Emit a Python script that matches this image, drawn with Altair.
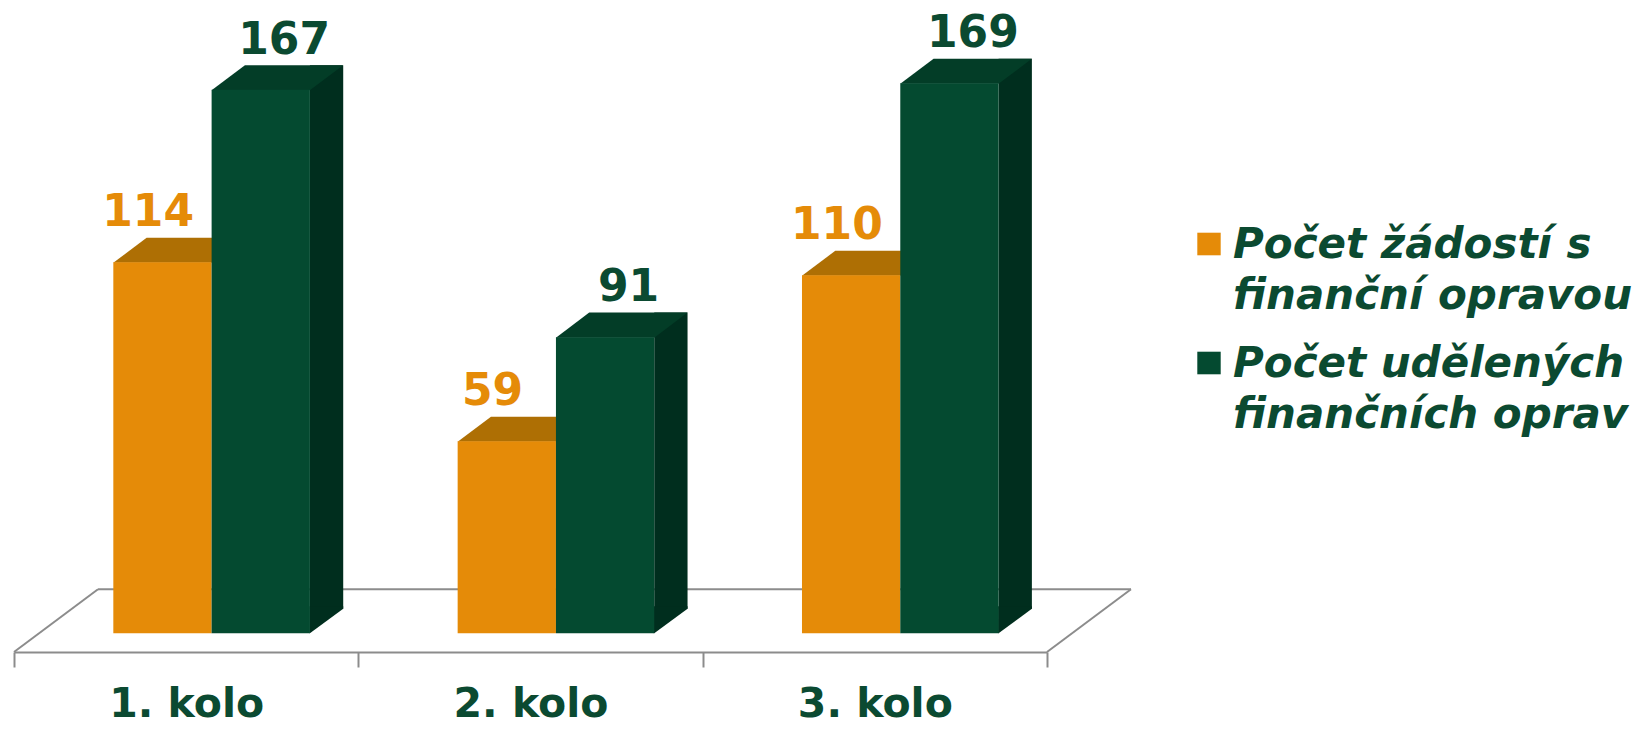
import altair as alt
import pandas as pd

# ---- data ----
categories = ["1. kolo", "2. kolo", "3. kolo"]
series_names = ["Počet žádostí s finanční opravou", "Počet udělených finančních oprav"]
legend_lines = [["Počet žádostí s", "finanční opravou"], ["Počet udělených", "finančních oprav"]]
requests = [114, 59, 110]
granted = [167, 91, 169]

ORANGE = "#E58B08"
ORANGE_TOP = "#AE6F04"
GREEN = "#044A30"
GREEN_TOP = "#033D27"
GREEN_SIDE = "#002E1E"
TEXT_GREEN = "#0B4A31"
GRID = "#8C8C8C"
FONT = "DejaVu Sans"

df = pd.DataFrame({"kolo": categories, "req": requests, "gr": granted, "zero": [0, 0, 0]})

W = 1033
H = 644
xscale = alt.Scale(domain=categories, paddingInner=0, paddingOuter=0)
yscale = alt.Scale(domain=[-5.75, 192.16], nice=False, zero=False)

X = alt.X("kolo:N", scale=xscale, sort=categories,
          axis=alt.Axis(title=None, labelAngle=0, domain=True, domainColor=GRID, domainWidth=2,
                        ticks=True, tickSize=15, tickColor=GRID, tickWidth=2, tickBand="extent",
                        labelFont=FONT, labelFontSize=41, labelFontWeight="bold",
                        labelColor=TEXT_GREEN, labelPadding=17, grid=False))


def Y(field):
    return alt.Y(f"{field}:Q", scale=yscale, axis=None)


base = alt.Chart(df)
first = base.transform_filter(alt.datum.kolo == categories[0])

# floor outline (decorative)
floor = [
    first.mark_rule(color=GRID, strokeWidth=2).encode(
        x=alt.value(84), x2=alt.value(1117), y=alt.value(581.3), y2=alt.value(581.3)),
    first.mark_rule(color=GRID, strokeWidth=2).encode(
        x=alt.value(0), x2=alt.value(84), y=alt.value(644), y2=alt.value(581.3)),
    first.mark_rule(color=GRID, strokeWidth=2).encode(
        x=alt.value(1033), x2=alt.value(1117), y=alt.value(644), y2=alt.value(581.3)),
]

# orange bars
o_top = base.mark_point(
    shape="M-72.85,0.5 L25.45,0.5 L58.75,-24.6 L-39.55,-24.6 Z",
    size=4, filled=True, opacity=1, color=ORANGE_TOP, strokeWidth=0
).encode(x=X, y=Y("req"))
o_front = base.mark_bar(width=98.3, xOffset=-23.7, color=ORANGE).encode(
    x=X, y=Y("req"), y2="zero:Q")

# green bars
g_side = base.mark_bar(width=33.3, xOffset=140.4, yOffset=-24.6, y2Offset=-24.6,
                       color=GREEN_SIDE).encode(
    x=X, y=Y("gr"), y2="zero:Q")
g_tri = base.mark_point(
    shape="M123.25,-27 L157.05,-27 L157.05,-24.6 L123.75,0 L123.25,0 Z",
    size=4, filled=True, opacity=1, color=GREEN_SIDE, strokeWidth=0
).encode(x=X, y=Y("zero"))
g_top = base.mark_point(
    shape="M25.45,0.5 L123.75,0.5 L157.05,-24.6 L58.75,-24.6 Z",
    size=4, filled=True, opacity=1, color=GREEN_TOP, strokeWidth=0
).encode(x=X, y=Y("gr"))
g_front = base.mark_bar(width=98.3, xOffset=74.6, color=GREEN).encode(
    x=X, y=Y("gr"), y2="zero:Q")

# value labels
o_lab = base.mark_text(xOffset=-38, dy=-36, baseline="alphabetic", align="center",
                       font=FONT, fontSize=44, fontWeight="bold", color=ORANGE).encode(
    x=X, y=Y("req"), text="req:Q")
g_lab = base.mark_text(xOffset=98, dy=-36, baseline="alphabetic", align="center",
                       font=FONT, fontSize=44, fontWeight="bold", color=TEXT_GREEN).encode(
    x=X, y=Y("gr"), text="gr:Q")

# manual legend
leg_layers = []
leg_colors = [ORANGE, GREEN]
sq_y = [224.7, 343.7]
txt_y = [250.3, 369.3]
for i, name in enumerate(series_names):
    leg_layers.append(first.mark_rect(color=leg_colors[i]).encode(
        x=alt.value(1183.3), x2=alt.value(1206.7), y=alt.value(sq_y[i]), y2=alt.value(sq_y[i] + 22.6)))
    leg_layers.append(first.mark_text(align="left", baseline="alphabetic", lineBreak="\n", lineHeight=51,
                                      font=FONT, fontSize=42, fontWeight="bold", fontStyle="italic",
                                      color=TEXT_GREEN).encode(
        x=alt.value(1219), y=alt.value(txt_y[i]), text=alt.value("\n".join(legend_lines[i]))))

chart = alt.layer(
    *floor,
    o_top, o_front, g_side, g_tri, g_top, g_front,
    o_lab, g_lab, *leg_layers
).properties(
    width=W, height=H,
    autosize=alt.AutoSizeParams(type="none"),
    padding={"left": 6, "top": 0, "right": 594, "bottom": 69},
    background="white"
).configure_view(stroke=None)

chart.save("out.html", embed_options={"renderer": "svg", "actions": False})
